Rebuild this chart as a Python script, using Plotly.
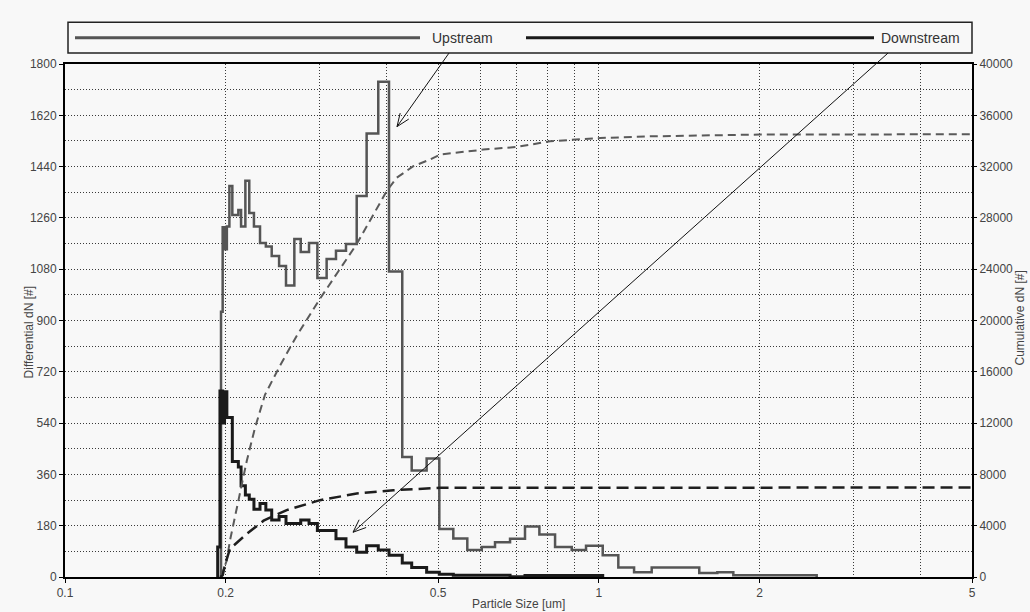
import math
import plotly.graph_objects as go

# ---------------- data ----------------
up_edges = [0.196, 0.1974, 0.199, 0.201, 0.2032, 0.2058, 0.2112, 0.2137, 0.2177, 0.2214,
            0.2259, 0.2319, 0.2378, 0.2439, 0.2518, 0.2594, 0.2689, 0.2764, 0.2865, 0.2970,
            0.3091, 0.3218, 0.3360, 0.3519, 0.3673, 0.3862, 0.4045, 0.4283, 0.4461, 0.4758,
            0.5025, 0.5338, 0.5670, 0.6034, 0.6390, 0.6818, 0.7272, 0.7737, 0.8279, 0.8896,
            0.9462, 1.0168, 1.0876, 1.1641, 1.256, 1.542, 1.667, 1.786, 2.559]
up_values = [931, 1227, 1150, 1230, 1372, 1270, 1288, 1230, 1390, 1277,
             1230, 1172, 1160, 1126, 1091, 1023, 1186, 1140, 1172, 1049,
             1116, 1145, 1168, 1337, 1556, 1738, 1072, 421, 374, 416,
             168, 135, 95, 105, 122, 134, 177, 149, 105, 95,
             110, 76, 33, 17, 33, 14, 17, 6]

down_edges = [0.1932, 0.1951, 0.1974, 0.199, 0.201, 0.2032, 0.2058, 0.2112, 0.2137, 0.2177,
              0.2214, 0.2259, 0.2319, 0.2378, 0.2439, 0.2518, 0.2594, 0.2764, 0.2865, 0.2970,
              0.3218, 0.3360, 0.3519, 0.3673, 0.3862, 0.4045, 0.4283, 0.4461, 0.4758, 0.5025,
              0.5338, 0.6818, 0.7272, 1.0168]
down_values = [105, 653, 540, 650, 560, 560, 405, 386, 320, 288,
               273, 238, 258, 235, 200, 212, 188, 200, 188, 163,
               134, 105, 87, 110, 95, 76, 49, 33, 17, 10,
               6, 1, 5]

cum_up_x = [0.196, 0.1985, 0.2009, 0.2037, 0.2112, 0.2190, 0.2269, 0.2369, 0.2529, 0.2602,
            0.2716, 0.3004, 0.3519, 0.4006, 0.4181, 0.4492, 0.4828, 0.5041, 0.6076, 0.7017,
            0.8100, 1.005, 1.247, 2.0, 5.0]
cum_up_y = [0, 600, 1294, 2842, 5944, 9044, 11625, 14206, 16500, 17400,
            18800, 21700, 25963, 30096, 31130, 32031, 32550, 32938, 33325, 33533,
            33972, 34230, 34359, 34500, 34520]

cum_down_x = [0.1952, 0.1974, 0.1996, 0.2037, 0.2190, 0.2355, 0.2602, 0.3004, 0.3519, 0.4123,
              0.5041, 1.0, 5.0]
cum_down_y = [0, 130, 1033, 2196, 3358, 4392, 5219, 5991, 6510, 6768,
              6950, 6975, 6980]

x_tick_vals = [0.1, 0.2, 0.5, 1, 2, 5]
x_tick_text = ["0.1", "0.2", "0.5", "1", "2", "5"]
x_minor_vals = [0.3, 0.4, 0.6, 0.7, 0.8, 0.9, 3, 4]
y_left_ticks = [0, 180, 360, 540, 720, 900, 1080, 1260, 1440, 1620, 1800]
y_right_ticks = [0, 4000, 8000, 12000, 16000, 20000, 24000, 28000, 32000, 36000, 40000]
y_right_text = [str(v) for v in y_right_ticks]

# ---------------- layout helpers ----------------
W, H = 1030, 612
L, R, T, B = 65, 972, 64, 580
PW, PH = R - L, B - T
BG = "#f8f8f8"


def pp(px, py):
    return (px - L) / PW, (B - py) / PH


def step_xy(edges, values):
    xs = [edges[0]] + list(edges)
    ys = [0] + list(values) + [0]
    return xs, ys


FONT = "Liberation Sans, Arial, sans-serif"
TXT = "#444444"
GRIDC = "#3a3a3a"

fig = go.Figure()

ux, uy = step_xy(up_edges, up_values)
dx, dy = step_xy(down_edges, down_values)

fig.add_trace(go.Scatter(x=cum_up_x, y=cum_up_y, yaxis="y2", mode="lines",
                         line=dict(color="#5a5a5a", width=2, dash="8px,5px"),
                         name="Upstream cumulative", showlegend=False))
fig.add_trace(go.Scatter(x=cum_down_x, y=cum_down_y, yaxis="y2", mode="lines",
                         line=dict(color="#1e1e1e", width=2.5, dash="12px,6px"),
                         name="Downstream cumulative", showlegend=False))
fig.add_trace(go.Scatter(x=ux, y=uy, mode="lines", line_shape="hv",
                         line=dict(color="#555555", width=2.5),
                         name="Upstream", showlegend=False))
fig.add_trace(go.Scatter(x=dx, y=dy, mode="lines", line_shape="hv",
                         line=dict(color="#1a1a1a", width=3),
                         name="Downstream", showlegend=False))

grid = dict(showgrid=True, gridcolor=GRIDC, gridwidth=1, griddash="1px,2px")
minor_grid = dict(ticks="", showgrid=True, gridcolor=GRIDC, gridwidth=1, griddash="1px,2px")

fig.update_layout(
    width=W, height=H,
    margin=dict(l=L, r=W - R, t=T, b=H - B, pad=0),
    paper_bgcolor=BG, plot_bgcolor=BG,
    font=dict(family=FONT, size=12, color=TXT),
    showlegend=False,
    hovermode=False,
    xaxis=dict(type="log", range=[-1, math.log10(5)],
               tickvals=x_tick_vals, ticktext=x_tick_text,
               ticks="outside", ticklen=4, tickcolor="#000",
               showline=True, linecolor="#000", linewidth=2, mirror=True,
               zeroline=False, minor=dict(tickvals=x_minor_vals, **minor_grid),
               **grid),
    yaxis=dict(range=[0, 1800], tickvals=y_left_ticks,
               ticks="outside", ticklen=4, tickcolor="#000",
               showline=True, linecolor="#000", linewidth=2, mirror=True,
               zeroline=False, minor=dict(dtick=90, **minor_grid),
               **grid),
    yaxis2=dict(range=[0, 40000], tickvals=y_right_ticks, ticktext=y_right_text,
                overlaying="y", side="right",
                ticks="outside", ticklen=4, tickcolor="#000", showgrid=False,
                zeroline=False, showline=False),
)

shapes = []
annotations = []

# legend box
x0, y0 = pp(68, 53)
x1, y1 = pp(972, 22)
shapes.append(dict(type="rect", xref="paper", yref="paper", x0=x0, y0=y0, x1=x1, y1=y1,
                   line=dict(color="#222", width=1.5), fillcolor="rgba(0,0,0,0)"))
for (a, b, col, label, tx) in [(75, 420, "#555555", "Upstream", 430),
                                (526, 874, "#1a1a1a", "Downstream", 879)]:
    lx0, ly = pp(a, 37.5)
    lx1, _ = pp(b, 37.5)
    shapes.append(dict(type="line", xref="paper", yref="paper", x0=lx0, x1=lx1, y0=ly, y1=ly,
                       line=dict(color=col, width=3)))
    tx_, _ = pp(tx, 37.5)
    annotations.append(dict(text=label, xref="paper", yref="paper", x=tx_, y=ly,
                            xanchor="left", yanchor="middle", showarrow=False,
                            font=dict(family=FONT, size=14, color="#333")))

# arrows from legend to curves
for (tail, head) in [((449, 53), (397, 127)), ((888, 53), (353, 535))]:
    tx0, ty0 = pp(*tail)
    hx0, hy0 = pp(*head)
    shapes.append(dict(type="line", xref="paper", yref="paper", x0=tx0, y0=ty0, x1=hx0, y1=hy0,
                       line=dict(color="#111", width=1)))
    vx, vy = tail[0] - head[0], tail[1] - head[1]
    n = math.hypot(vx, vy)
    vx, vy = vx / n, vy / n
    for ang in (math.radians(22), -math.radians(22)):
        wx = vx * math.cos(ang) - vy * math.sin(ang)
        wy = vx * math.sin(ang) + vy * math.cos(ang)
        ex, ey = pp(head[0] + 14 * wx, head[1] + 14 * wy)
        shapes.append(dict(type="line", xref="paper", yref="paper", x0=hx0, y0=hy0, x1=ex, y1=ey,
                           line=dict(color="#111", width=1)))

# axis titles
ax, ay = pp(29, 334)
annotations.append(dict(text="Differential dN [#]", xref="paper", yref="paper", x=ax, y=ay,
                        textangle=-90, showarrow=False, xanchor="center", yanchor="middle",
                        font=dict(family=FONT, size=12, color=TXT)))
ax, ay = pp(1020, 320)
annotations.append(dict(text="Cumulative dN [#]", xref="paper", yref="paper", x=ax, y=ay,
                        textangle=-90, showarrow=False, xanchor="center", yanchor="middle",
                        font=dict(family=FONT, size=12, color=TXT)))
ax, ay = pp(518, 598)
annotations.append(dict(text="Particle Size [um]", xref="paper", yref="paper", x=ax, y=ay,
                        showarrow=False, xanchor="center", yanchor="top",
                        font=dict(family=FONT, size=12, color=TXT)))

fig.update_layout(shapes=shapes, annotations=annotations)
fig.write_html("out.html",
               config={"displayModeBar": False},
               post_script="document.body.style.margin='0px';"
                           "document.body.style.background='%s';" % BG)
